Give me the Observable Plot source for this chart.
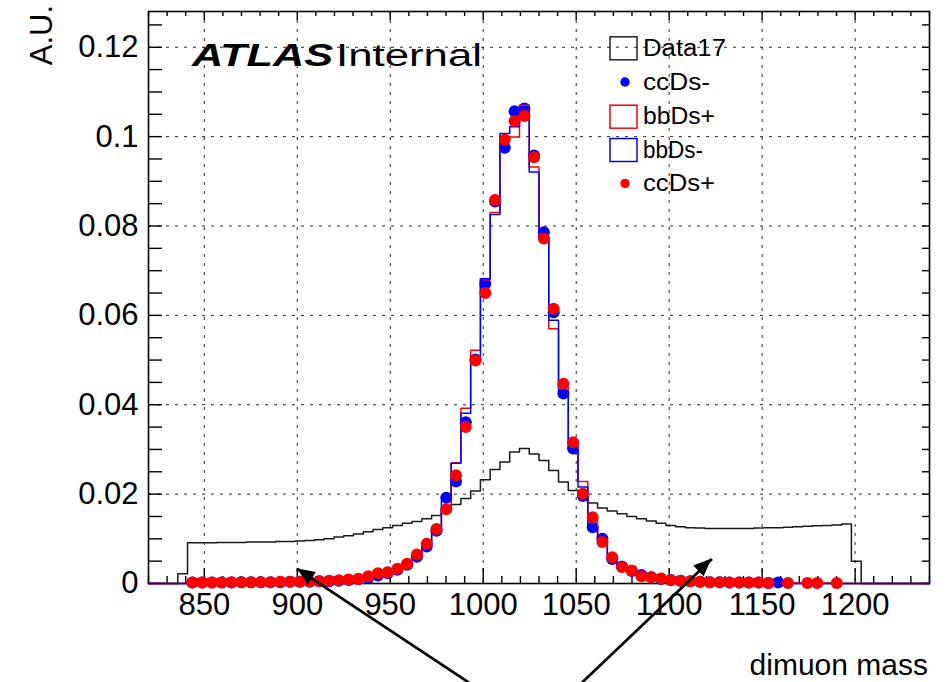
<!DOCTYPE html>
<html><head><meta charset="utf-8">
<script src="https://cdn.jsdelivr.net/npm/d3@7"></script>
<script src="https://cdn.jsdelivr.net/npm/@observablehq/plot@0.6"></script>
<style>
html,body{margin:0;padding:0;background:#fff;}
#wrap{position:relative;width:948px;height:682px;}
</style></head><body><div id="wrap"></div>
<script>
// Histogram binning (TH1 definition): 80 bins from 820 to 1240
const histLow = 820, histHigh = 1240, nBins = 80;

// Data17 (black step histogram), one value per bin
const data17 = [
0, 0, 0, 0.0022, 0.0091, 0.0091, 0.0091, 0.0092, 0.0092, 0.0092,
0.0093, 0.0093, 0.0093, 0.0094, 0.0094, 0.0095, 0.0096, 0.0098, 0.0100, 0.0104,
0.0107, 0.0111, 0.0116, 0.0121, 0.0125, 0.0130, 0.0135, 0.0139, 0.0145, 0.0152,
0.0165, 0.0177, 0.0190, 0.0207, 0.0232, 0.0255, 0.0272, 0.0294, 0.0302, 0.0290,
0.0275, 0.0253, 0.0227, 0.0208, 0.0195, 0.0180, 0.0169, 0.0162, 0.0156, 0.0150,
0.0145, 0.0140, 0.0135, 0.0130, 0.0127, 0.0125, 0.0124, 0.0123, 0.0123, 0.0123,
0.0123, 0.0123, 0.0124, 0.0125, 0.0125, 0.0126, 0.0127, 0.0128, 0.0129, 0.0130,
0.0131, 0.0133, 0.0050, 0, 0, 0, 0, 0, 0, 0];

// ccDs- (blue markers), null = empty bin
const ccDsMinus = [
null, null, null, null, 0.0002, 0.0002, 0.0002, 0.0002, 0.0002, 0.0003,
0.0003, 0.0003, 0.0003, 0.0003, 0.0004, 0.0004, 0.0004, 0.0005, 0.0005, 0.0006,
0.0008, 0.0010, 0.0013, 0.0018, 0.0023, 0.0031, 0.0042, 0.0060, 0.0083, 0.0118,
0.0192, 0.0228, 0.0361, 0.0501, 0.0671, 0.0855, 0.0975, 0.1057, 0.1063, 0.0958,
0.0786, 0.0607, 0.0425, 0.0302, 0.0196, 0.0126, 0.0100, 0.0055, 0.0038, 0.0028,
0.0019, 0.0014, 0.0010, 0.0008, 0.0006, 0.0005, 0.0004, 0.0003, 0.0003, 0.0002,
0.0002, 0.0002, 0.0002, 0.0001, 0.0002, null, null, null, null, null,
null, null, null, null, null, null, null, null, null, null];

// bbDs+ (red step histogram)
const bbDsPlus = [
0, 0, 0, 0, 0.0002, 0.0002, 0.0002, 0.0002, 0.0003, 0.0003,
0.0003, 0.0003, 0.0003, 0.0004, 0.0004, 0.0004, 0.0005, 0.0005, 0.0006, 0.0007,
0.0009, 0.0011, 0.0015, 0.0021, 0.0026, 0.0032, 0.0045, 0.0063, 0.0088, 0.0121,
0.0170, 0.0270, 0.0392, 0.0522, 0.0680, 0.0830, 0.0999, 0.0999, 0.1070, 0.0932,
0.0775, 0.0570, 0.0440, 0.0310, 0.0228, 0.0140, 0.0095, 0.0060, 0.0037, 0.0029,
0.0017, 0.0015, 0.0011, 0.0008, 0.0006, 0.0005, 0.0004, 0.0003, 0.0003, 0.0002,
0.0002, 0.0002, 0.0002, 0.0001, 0.0001, 0.0001, 0.0001, 0.0001, 0.0001, 0.0001,
0.0001, 0, 0, 0, 0, 0, 0, 0, 0, 0];

// bbDs- (blue step histogram)
const bbDsMinus = [
0, 0, 0, 0, 0.0002, 0.0002, 0.0002, 0.0002, 0.0003, 0.0003,
0.0003, 0.0003, 0.0003, 0.0004, 0.0004, 0.0004, 0.0005, 0.0005, 0.0006, 0.0007,
0.0008, 0.0010, 0.0014, 0.0019, 0.0025, 0.0031, 0.0044, 0.0061, 0.0086, 0.0120,
0.0185, 0.0269, 0.0381, 0.0505, 0.0682, 0.0826, 0.1007, 0.1022, 0.1066, 0.0921,
0.0772, 0.0589, 0.0430, 0.0300, 0.0216, 0.0126, 0.0098, 0.0058, 0.0038, 0.0028,
0.0019, 0.0014, 0.0010, 0.0008, 0.0006, 0.0005, 0.0004, 0.0003, 0.0003, 0.0002,
0.0002, 0.0002, 0.0002, 0.0001, 0.0001, 0.0001, 0, 0, 0, 0,
0, 0, 0, 0, 0, 0, 0, 0, 0, 0];

// ccDs+ (red markers), null = empty bin
const ccDsPlus = [
null, null, null, null, 0.0002, 0.0002, 0.0002, 0.0002, 0.0003, 0.0003,
0.0003, 0.0003, 0.0003, 0.0004, 0.0004, 0.0004, 0.0005, 0.0005, 0.0006, 0.0007,
0.0009, 0.0010, 0.0016, 0.0023, 0.0025, 0.0033, 0.0044, 0.0065, 0.0089, 0.0122,
0.0166, 0.0242, 0.0350, 0.0499, 0.0650, 0.0858, 0.0993, 0.1035, 0.1046, 0.0954,
0.0772, 0.0615, 0.0447, 0.0316, 0.0201, 0.0148, 0.0093, 0.0059, 0.0037, 0.0029,
0.0016, 0.0014, 0.0011, 0.0007, 0.0006, 0.0005, 0.0004, 0.0003, 0.0003, 0.0002,
0.0002, 0.0002, 0.0002, 0.0001, null, 0.0001, null, 0.0001, 0.0001, null,
0.0001, null, null, null, null, null, null, null, null, null];

// Axis ticks
const xMajor = [850, 900, 950, 1000, 1050, 1100, 1150, 1200];
const xMinor = [820, 830, 840, 860, 870, 880, 890, 910, 920, 930, 940, 960, 970, 980, 990,
  1010, 1020, 1030, 1040, 1060, 1070, 1080, 1090, 1110, 1120, 1130, 1140, 1160, 1170, 1180, 1190, 1210, 1220, 1230, 1240];
const yMajor = [0, 0.02, 0.04, 0.06, 0.08, 0.1, 0.12];
const yMinor = [0.005, 0.01, 0.015, 0.025, 0.03, 0.035, 0.045, 0.05, 0.055, 0.065, 0.07, 0.075,
  0.085, 0.09, 0.095, 0.105, 0.11, 0.115, 0.125];
const yGrid = [0.02, 0.04, 0.06, 0.08, 0.1, 0.12];

// Annotation arrows (tail below the axis, head in the plot)
const arrowTailX = [993.5, 1052.3];
const arrowTailY = [-0.0225, -0.0225];
const arrowHeadX = [900, 1123];
const arrowHeadY = [0.0033, 0.0055];

// Legend entries
const legendLabels = ["Data17", "ccDs-", "bbDs+", "bbDs-", "ccDs+"];
const legendKinds = ["box", "dot", "box", "box", "dot"];
const legendColors = ["#222222", "#0000ff", "#ff0000", "#0000ff", "#ff0000"];

const binW = (histHigh - histLow) / nBins;
const edges = d3.range(nBins + 1).map(k => histLow + k * binW);
const steps = vals => edges.map((e, k) => ({x: e, y: vals[Math.min(k, nBins - 1)]}));
const points = vals => vals.map((v, k) => ({x: histLow + (k + 0.5) * binW, y: v})).filter(d => d.y != null);
const arrows = arrowTailX.map((_, i) => ({x1: arrowTailX[i], y1: arrowTailY[i], x2: arrowHeadX[i], y2: arrowHeadY[i]}));

const FONT = "'Liberation Sans', Arial, Helvetica, sans-serif";
const noText = () => "";

const chart = Plot.plot({
  width: 948, height: 682,
  marginLeft: 148, marginRight: 19, marginTop: 11, marginBottom: 99,
  x: {domain: [histLow, histHigh]},
  y: {domain: [0, 0.128]},
  style: {fontFamily: FONT, background: "white", color: "black", overflow: "visible"},
  marks: [
    Plot.gridX({ticks: xMajor, stroke: "#000", strokeOpacity: 0.85, strokeWidth: 1, strokeDasharray: "3,6"}),
    Plot.gridY({ticks: yGrid, stroke: "#000", strokeOpacity: 0.85, strokeWidth: 1, strokeDasharray: "3,6"}),
    Plot.frame({stroke: "black", strokeWidth: 1.6}),
    // bottom axis: labels + inward ticks
    Plot.axisX({ticks: xMajor, tickSize: 0, tickPadding: 9, fontSize: 31, tickFormat: d => String(d), label: null}),
    Plot.axisX({ticks: xMajor, tickSize: -15, tickFormat: noText, label: null, strokeWidth: 1.4}),
    Plot.axisX({ticks: xMinor, tickSize: -7, tickFormat: noText, label: null, strokeWidth: 1.4}),
    // top axis ticks
    Plot.axisX({anchor: "top", ticks: xMajor, tickSize: -8, tickFormat: noText, label: null, strokeWidth: 1.4}),
    Plot.axisX({anchor: "top", ticks: xMinor, tickSize: -4, tickFormat: noText, label: null, strokeWidth: 1.4}),
    // left axis: labels + inward ticks
    Plot.axisY({ticks: yMajor, tickSize: 0, tickPadding: 10, fontSize: 31, tickFormat: d => String(d), label: null}),
    Plot.axisY({ticks: yMajor, tickSize: -14, tickFormat: noText, label: null, strokeWidth: 1.4}),
    Plot.axisY({ticks: yMinor, tickSize: -14, tickFormat: noText, label: null, strokeWidth: 1.4}),
    // right axis ticks
    Plot.axisY({anchor: "right", ticks: yMajor.concat(yMinor), tickSize: -8, tickFormat: noText, label: null, strokeWidth: 1.4}),
    // histograms and markers
    Plot.line(steps(data17), {x: "x", y: "y", curve: "step-after", stroke: "#1a1a1a", strokeWidth: 1.5}),
    Plot.dot(points(ccDsMinus), {x: "x", y: "y", r: 6, fill: "#0000ff"}),
    Plot.line(steps(bbDsPlus), {x: "x", y: "y", curve: "step-after", stroke: "#ff0000", strokeWidth: 1.5}),
    Plot.line(steps(bbDsMinus), {x: "x", y: "y", curve: "step-after", stroke: "#0000ff", strokeWidth: 1.5}),
    Plot.dot(points(ccDsPlus), {x: "x", y: "y", r: 6, fill: "#ff0000"}),
    // arrow shafts
    Plot.link(arrows, {x1: "x1", y1: "y1", x2: "x2", y2: "y2", stroke: "black", strokeWidth: 2.7})
  ]
});

document.getElementById("wrap").appendChild(chart);
const svg = d3.select(chart);

// Filled arrow heads, placed with the chart's own scales
const sx = chart.scale("x"), sy = chart.scale("y");
const heads = svg.append("g").attr("fill", "black");
arrows.forEach(a => {
  const tx = sx.apply(a.x1), ty = sy.apply(a.y1);
  const hx = sx.apply(a.x2), hy = sy.apply(a.y2);
  const ang = Math.atan2(hy - ty, hx - tx) * 180 / Math.PI;
  heads.append("path").attr("d", "M0,0L-18,-7.5L-18,7.5Z")
    .attr("transform", `translate(${hx},${hy}) rotate(${ang})`);
});

// Text annotations
const ann = svg.append("g").attr("font-family", FONT).attr("fill", "black").attr("text-anchor", "start");
ann.append("text").text("A.U.").attr("font-size", 31).attr("text-anchor", "end")
  .attr("transform", "translate(52,5) rotate(-90)");
ann.append("text").text("dimuon mass").attr("font-size", 30).attr("text-anchor", "end")
  .attr("x", 928).attr("y", 675);
ann.append("text").text("ATLAS").attr("font-size", 31).attr("font-weight", "bold").attr("font-style", "italic")
  .attr("text-anchor", "start")
  .attr("x", 192).attr("y", 65.5).attr("textLength", 141).attr("lengthAdjust", "spacingAndGlyphs");
ann.append("text").text("Internal").attr("font-size", 31).attr("text-anchor", "start")
  .attr("x", 336).attr("y", 65.5).attr("textLength", 146).attr("lengthAdjust", "spacingAndGlyphs");

// Legend
const legY = [48.3, 82, 116.7, 150, 183.5];
const legW = [83, 67, 72, 60, 72];
const leg = svg.append("g").attr("font-family", FONT).attr("text-anchor", "start");
legendLabels.forEach((lab, i) => {
  const cy = legY[i];
  if (legendKinds[i] === "box") {
    leg.append("rect").attr("x", 610).attr("y", cy - 11.5).attr("width", 27).attr("height", 23)
      .attr("fill", "none").attr("stroke", legendColors[i]).attr("stroke-width", 1.5);
  } else {
    leg.append("circle").attr("cx", 625).attr("cy", cy).attr("r", 4.7).attr("fill", legendColors[i]);
  }
  leg.append("text").text(lab).attr("x", 643).attr("y", cy + 7.5).attr("font-size", 23.5)
    .attr("text-anchor", "start")
    .attr("fill", "black").attr("textLength", legW[i]).attr("lengthAdjust", "spacingAndGlyphs");
});
</script></body></html>
